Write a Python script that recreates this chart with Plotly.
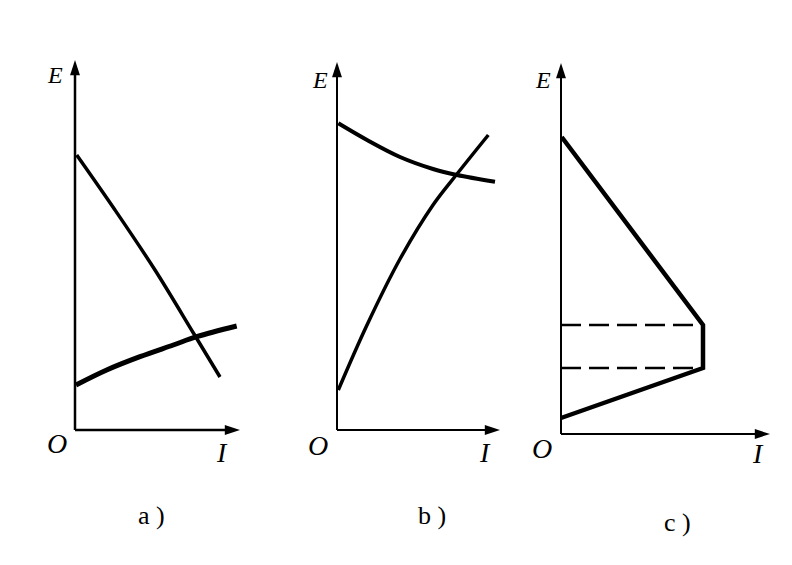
import plotly.graph_objects as go

W, H = 792, 565
OFF = 8  # page body margin

# ---- data (I, E in arbitrary units) ----
# panel a
a_fall_I = [0.17, 4.0, 8.0, 11.9, 14.5]
a_fall_E = [27.5, 22.0, 16.0, 9.6, 5.3]
a_rise_I = [0.1, 3.17, 6.5, 9.83, 12.17, 16.17]
a_rise_E = [4.5, 6.0, 7.33, 8.5, 9.33, 10.4]
a_axis = (16.5, 37.0)

# panel b
b_fall_I = [0.13, 3.0, 6.3, 9.6, 12.0, 15.8]
b_fall_E = [30.67, 29.0, 27.3, 26.1, 25.5, 24.83]
b_rise_I = [0.13, 3.0, 6.3, 9.6, 12.0, 15.13]
b_rise_E = [4.0, 10.5, 17.1, 22.5, 25.6, 29.5]
b_axis = (16.3, 36.8)

# panel c
c_line_I = [0.07, 14.2, 14.2, 0.0]
c_line_E = [29.7, 10.9, 6.6, 1.6]
c_dash_E = [10.9, 6.6]
c_dash_I = 14.2
c_axis = (20.9, 37.1)

axis_labels = ["E", "O", "I"]
panel_labels = ["a )", "b )", "c )"]

fig = go.Figure()


def px_dom_x(p0, p1):
    return [max(0, (p0 - OFF) / W), min(1, (p1 - OFF) / W)]


def px_dom_y(pbot, ptop):
    return [1 - (pbot - OFF) / H, 1 - (ptop - OFF) / H]


panels = [
    dict(xd=(45, 265), yd=(480, 30), xr=[-3, 19], yr=[-5, 40]),
    dict(xd=(307, 527), yd=(480, 30), xr=[-3, 19], yr=[-5, 40]),
    dict(xd=(531, 791), yd=(484, 34), xr=[-3, 23], yr=[-5, 40]),
]

layout_axes = {}
for i, p in enumerate(panels, start=1):
    sx = "" if i == 1 else str(i)
    layout_axes["xaxis" + sx] = dict(domain=px_dom_x(*p["xd"]), range=p["xr"], visible=False,
                                     anchor="y" + sx, fixedrange=True)
    layout_axes["yaxis" + sx] = dict(domain=px_dom_y(*p["yd"]), range=p["yr"], visible=False,
                                     anchor="x" + sx, fixedrange=True)

BLACK = "#000000"


def add_axes(xref, yref, tip, lw):
    xt, yt = tip
    fig.add_trace(go.Scatter(x=[0, 0], y=[0, yt - 1.2], mode="lines", line=dict(color=BLACK, width=lw),
                             xaxis=xref, yaxis=yref, hoverinfo="skip"))
    fig.add_trace(go.Scatter(x=[0, xt - 1.2], y=[0, 0], mode="lines", line=dict(color=BLACK, width=lw),
                             xaxis=xref, yaxis=yref, hoverinfo="skip"))
    fig.add_trace(go.Scatter(x=[0, xt], y=[yt, 0], mode="markers",
                             marker=dict(symbol="arrow", size=16, angle=[0, 90], color=BLACK,
                                         line=dict(width=0)),
                             xaxis=xref, yaxis=yref, hoverinfo="skip"))


def curve(x, y, w, xr, yr):
    fig.add_trace(go.Scatter(x=x, y=y, mode="lines",
                             line=dict(color=BLACK, width=w, shape="spline", smoothing=1.0),
                             xaxis=xr, yaxis=yr))


# panel a
add_axes("x", "y", a_axis, 2.5)
curve(a_fall_I, a_fall_E, 3.5, "x", "y")
curve(a_rise_I, a_rise_E, 5, "x", "y")

# panel b
add_axes("x2", "y2", b_axis, 2)
curve(b_fall_I, b_fall_E, 4, "x2", "y2")
curve(b_rise_I, b_rise_E, 3.5, "x2", "y2")

# panel c
add_axes("x3", "y3", c_axis, 2)
for e in c_dash_E:
    fig.add_trace(go.Scatter(x=[0, c_dash_I], y=[e, e], mode="lines",
                             line=dict(color=BLACK, width=2.5, dash="20px,8px"),
                             xaxis="x3", yaxis="y3"))
fig.add_trace(go.Scatter(x=c_line_I, y=c_line_E, mode="lines", line=dict(color=BLACK, width=4.5),
                         xaxis="x3", yaxis="y3"))

# axis letter labels
label_pos = [
    ("x", "y", [(-2.0, 35.5), (-1.8, -1.3), (14.7, -2.2)]),
    ("x2", "y2", [(-1.7, 35.0), (-1.9, -1.5), (14.8, -2.2)]),
    ("x3", "y3", [(-1.8, 35.4), (-1.9, -1.4), (19.7, -1.9)]),
]
sizes = [24, 28, 28]
annotations = []
for xr, yr, pts in label_pos:
    for txt, (x, y), s in zip(axis_labels, pts, sizes):
        annotations.append(dict(x=x, y=y, xref=xr, yref=yr, text="<i>%s</i>" % txt, showarrow=False,
                                font=dict(family="Liberation Serif", size=s, color=BLACK),
                                xanchor="center", yanchor="middle"))

for txt, (cx, cy) in zip(panel_labels, [(151, 515), (432, 515), (677, 522)]):
    annotations.append(dict(x=(cx - OFF) / W, y=1 - (cy - OFF) / H, xref="paper", yref="paper", text=txt,
                            showarrow=False, font=dict(family="Liberation Serif", size=26, color=BLACK),
                            xanchor="center", yanchor="middle"))

fig.update_layout(
    width=W, height=H, margin=dict(l=0, r=0, t=0, b=0),
    paper_bgcolor="white", plot_bgcolor="white", showlegend=False,
    annotations=annotations, **layout_axes,
)

fig.write_html("out.html")
